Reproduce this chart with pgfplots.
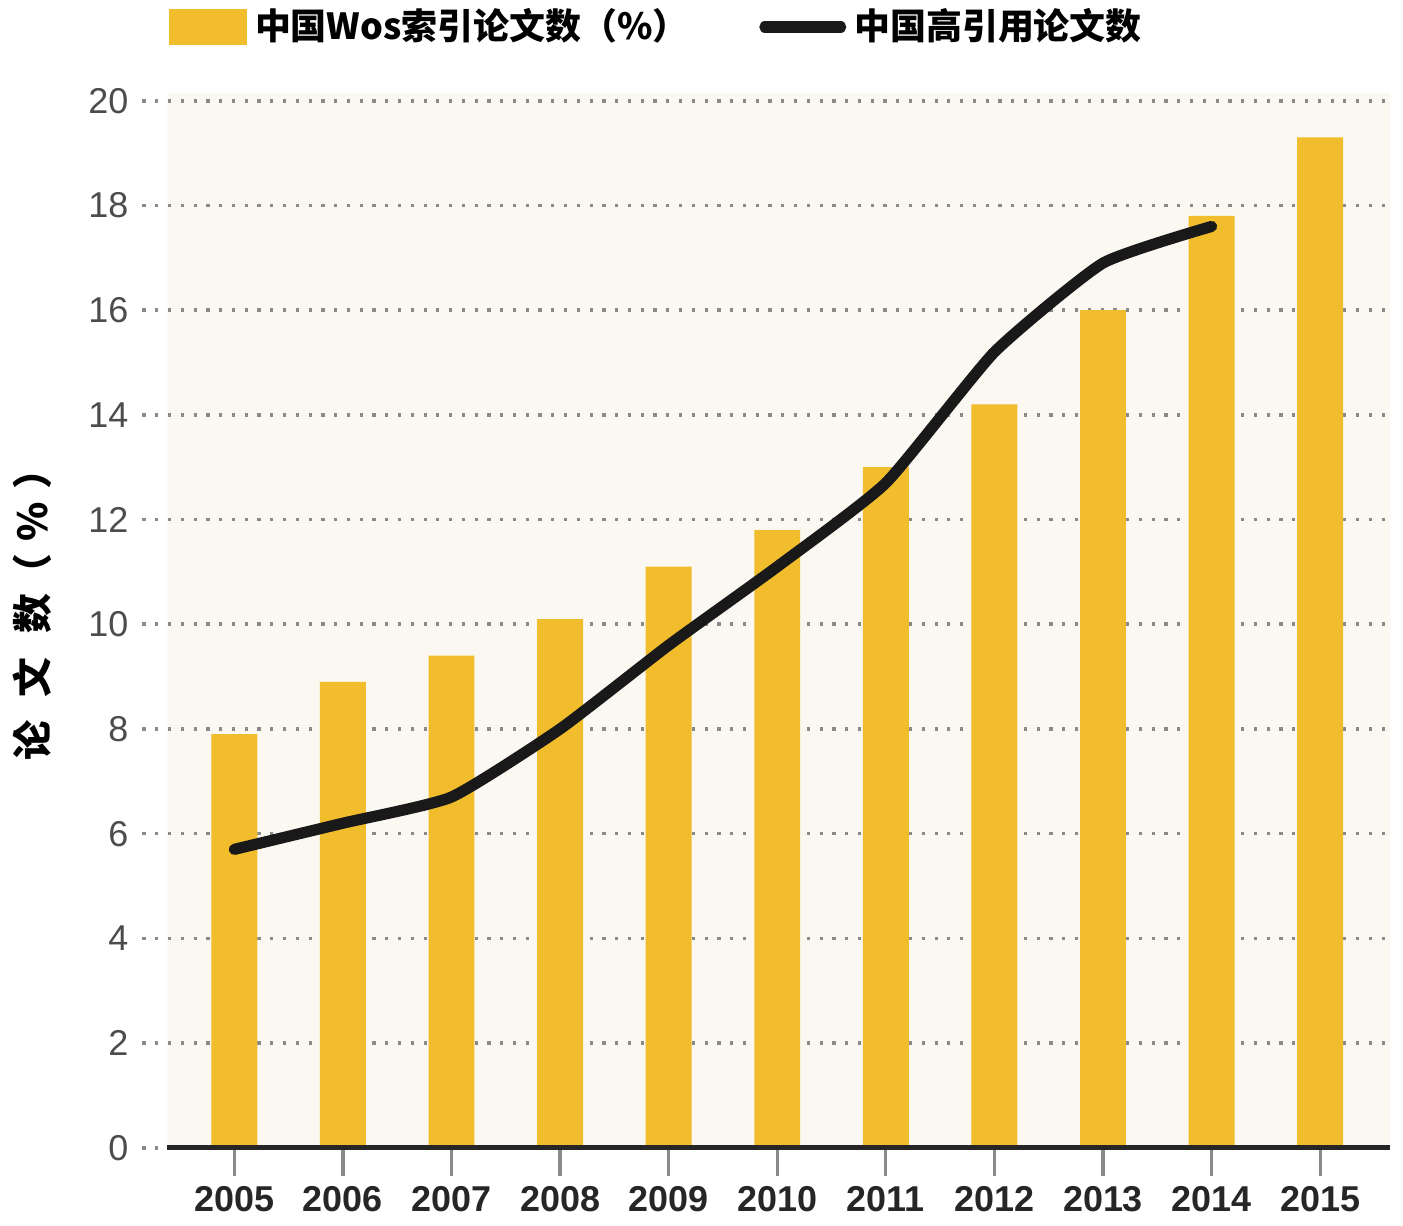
\documentclass[border=0pt]{standalone}
\usepackage{fontspec}
\setmainfont{Liberation Sans}
\newfontfamily\cjk{Noto Sans CJK SC}
\usepackage{pgfplots}
\pgfplotsset{compat=1.18}
\definecolor{baryellow}{HTML}{F2BD2C}
\definecolor{cream}{HTML}{FAF8F1}
\definecolor{gridgray}{HTML}{8A8A8A}
\begin{document}
\begin{tikzpicture}
\begin{axis}[
  set layers=standard,
  scale only axis, width=312.5pt, height=262.25pt,
  xmin=-0.846, xmax=10.643, ymin=0, ymax=20,
  clip=false,
  axis line style={draw=none},
  xtick={0,1,2,3,4,5,6,7,8,9,10},
  xticklabels={2005,2006,2007,2008,2009,2010,2011,2012,2013,2014,2015},
  ytick={0,2,4,6,8,10,12,14,16,18,20},
  tick align=outside,
  major tick length=7pt,
  x tick style={draw=gridgray, line width=0.8pt},
  y tick style={draw=none},
  xtick pos=bottom, ytick pos=left,
  ymajorgrids,
  grid style={draw=gridgray, line width=0.9pt, dash pattern=on 0.8pt off 2.4pt},
  xticklabel style={font=\bfseries\fontsize{9}{10}\selectfont, text=black!85, yshift=0.75pt},
  yticklabel style={font=\fontsize{9}{10}\selectfont, text=black!70, xshift=7pt},
  /pgf/number format/assume math mode=true,
  ylabel={\cjk\bfseries 论\hspace{6pt}文\hspace{6pt}数（\hspace{3pt}\%\hspace{3pt}）},
  ylabel style={font=\fontsize{10}{11}\selectfont, at={(axis description cs:-0.088,0.518)}, anchor=center},
  legend style={at={(rel axis cs:0,1)}, anchor=west, xshift=6.5pt, yshift=18.5pt, inner sep=0pt,
    draw=none, fill=none, font=\cjk\bfseries\fontsize{9}{10}\selectfont,
    legend columns=2, /tikz/every even column/.append style={column sep=15.75pt}},
  legend cell align=left,
]
\addplot[fill=cream, draw=none, forget plot, on layer=axis background]
  coordinates {(-0.616,0) (10.643,0) (10.643,20.15) (-0.616,20.15) (-0.616,0)};
\addplot[ybar, bar width=11.5pt, fill=baryellow, draw=none,
  legend image code/.code={\fill[baryellow] (0pt,-4.6pt) rectangle (19.5pt,4.6pt);}]
  coordinates {(0,7.9) (1,8.9) (2,9.4) (3,10.1) (4,11.1) (5,11.8) (6,13.0) (7,14.2) (8,16.0) (9,17.8) (10,19.3)};
\addlegendentry{中国Wos索引论文数（\%）}
\addplot[line width=2.8pt, color=black!90, smooth, tension=0.3, line cap=round,
  legend image code/.code={\draw[line width=2.8pt, black!90, line cap=round] (0pt,0pt) -- (19pt,0pt);}]
  coordinates {(0,5.7) (1,6.2) (2,6.7) (3,8.0) (4,9.6) (5,11.1) (6,12.7) (7,15.2) (8,16.9) (9,17.6)};
\addlegendentry{中国高引用论文数}
\draw[line width=1.3pt, black!85] (axis cs:-0.616,0) -- (axis cs:10.643,0);
\end{axis}
\path ([shift={(-35pt,-18.5pt)}]current axis.south west) ([shift={(3.25pt,25.25pt)}]current axis.north east);
\end{tikzpicture}
\end{document}
